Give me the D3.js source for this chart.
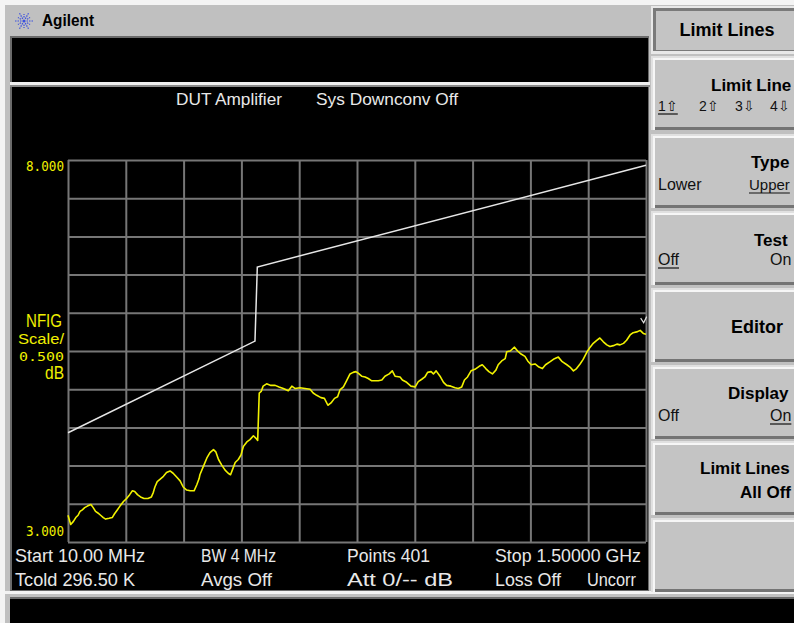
<!DOCTYPE html>
<html><head><meta charset="utf-8">
<script src="https://cdn.jsdelivr.net/npm/d3@7"></script>
<style>html,body{margin:0;padding:0;background:#c0c0c0;overflow:hidden}svg{display:block}</style>
</head><body><svg id="c" width="794" height="623"></svg>
<script>
// ---- data ----
const freqMHz = [
  10,17,24,30,36,41,47,53,60,69,
  75,81,87,94,101,107,116,124,130,137,
  144,153,161,169,176,182,189,197,206,216,
  225,230,234,240,247,256,264,273,281,290,
  299,307,316,325,335,342,348,350,359,368,
  376,385,391,398,406,415,423,429,435,441,
  449,456,462,471,479,488,494,499,503,508,
  513,522,533,544,554,565,578,587,595,608,
  621,634,642,651,662,671,680,688,697,705,
  711,720,728,737,745,752,758,767,776,784,
  793,810,819,827,838,846,853,866,872,883,
  894,905,913,922,930,937,946,952,959,969,
  978,986,997,1008,1016,1025,1032,1040,1049,1059,
  1070,1078,1087,1095,1104,1113,1119,1128,1137,1141,
  1150,1161,1169,1178,1188,1195,1204,1214,1224,1233,
  1241,1253,1264,1274,1284,1296,1304,1313,1321,1330,
  1338,1347,1356,1364,1373,1381,1390,1399,1407,1416,
  1425,1433,1442,1450,1459,1467,1476,1485,1493,1500
];
const nfigDb = [
  3.35,3.23,3.27,3.32,3.35,3.40,3.42,3.45,3.47,3.49,
  3.45,3.40,3.38,3.35,3.32,3.30,3.31,3.32,3.37,3.42,
  3.47,3.53,3.57,3.62,3.67,3.66,3.62,3.59,3.57,3.57,
  3.59,3.65,3.72,3.79,3.82,3.86,3.91,3.93,3.90,3.85,
  3.80,3.72,3.68,3.67,3.67,3.75,3.83,3.88,3.99,4.10,
  4.17,4.21,4.18,4.08,4.01,3.94,3.90,3.88,3.96,4.04,
  4.08,4.14,4.25,4.31,4.34,4.39,4.36,4.33,4.95,4.97,
  5.04,5.07,5.05,5.05,5.03,5.01,4.98,5.04,5.01,5.02,
  5.01,5.00,4.95,4.92,4.89,4.88,4.79,4.82,4.88,4.90,
  4.99,5.03,5.11,5.20,5.22,5.23,5.21,5.17,5.16,5.14,
  5.11,5.11,5.12,5.17,5.20,5.24,5.17,5.16,5.12,5.09,
  5.04,5.03,5.10,5.13,5.16,5.22,5.23,5.20,5.24,5.17,
  5.09,5.05,5.04,5.02,5.01,5.03,5.12,5.16,5.24,5.26,
  5.30,5.32,5.27,5.23,5.20,5.25,5.32,5.37,5.40,5.49,
  5.50,5.55,5.50,5.46,5.43,5.37,5.32,5.33,5.29,5.27,
  5.32,5.36,5.40,5.42,5.36,5.32,5.29,5.24,5.27,5.33,
  5.39,5.48,5.55,5.60,5.64,5.67,5.62,5.58,5.56,5.57,
  5.59,5.58,5.60,5.64,5.71,5.74,5.75,5.77,5.73,5.72
];
const limitFreqMHz = [10, 492, 498, 1500];
const limitDb = [4.43, 5.63, 6.60, 7.93];
const xStartMHz = 10, xStopMHz = 1500;
const yRefBottom = 3.0, yRefTop = 8.0, yPerDiv = 0.5, xDivs = 10;
const yTickLabels = ["8.000", "3.000"];
const titleTexts = ["DUT Amplifier", "Sys Downconv Off"];
const annotRow1 = ["Start 10.00 MHz", "BW 4 MHz", "Points 401", "Stop 1.50000 GHz"];
const annotRow2 = ["Tcold 296.50 K", "Avgs Off", "Att 0/-- dB", "Loss Off", "Uncorr"];
const softkeyLabels = ["Limit Line", "Type", "Test", "Editor", "Display", "Limit Lines"];

// ---- drawing ----
const svg = d3.select("#c");
const W = 794, H = 623;

// frame / bezel
svg.append("rect").attr("x",0).attr("y",0).attr("width",W).attr("height",H).attr("fill","#c0c0c0");
svg.append("rect").attr("x",0).attr("y",0).attr("width",W).attr("height",5).attr("fill","#f4f4f4");
svg.append("rect").attr("x",0).attr("y",0).attr("width",5).attr("height",H).attr("fill","#f4f4f4");
svg.append("rect").attr("x",10).attr("y",36).attr("width",639).attr("height",556).attr("fill","#6a6a6a");
svg.append("rect").attr("x",12).attr("y",38).attr("width",636).attr("height",44).attr("fill","#000");
svg.append("rect").attr("x",10).attr("y",82).attr("width",640).attr("height",3).attr("fill","#f0f0f0");
svg.append("rect").attr("x",10).attr("y",85).attr("width",640).attr("height",2).attr("fill","#8a8a8a");
svg.append("rect").attr("x",12).attr("y",87).attr("width",636).attr("height",503).attr("fill","#000");
svg.append("rect").attr("x",5).attr("y",591).attr("width",W).attr("height",3).attr("fill","#f2f2f2");
svg.append("rect").attr("x",10).attr("y",599).attr("width",W).attr("height",H-599).attr("fill","#000");
svg.append("rect").attr("x",10).attr("y",597).attr("width",W).attr("height",2).attr("fill","#6a6a6a");

// Agilent logo
const logo = svg.append("g").attr("transform","translate(24,21)");
d3.range(12).forEach(i=>{
  const a = i*Math.PI/6;
  const r0 = (i%2===0)?2.5:3.5, r1 = (i%2===0)?9:7;
  logo.append("line").attr("x1",r0*Math.cos(a)).attr("y1",r0*Math.sin(a))
    .attr("x2",r1*Math.cos(a)).attr("y2",r1*Math.sin(a))
    .attr("stroke","#3a4fe0").attr("stroke-width",1.2).attr("stroke-dasharray","1.5,1");
});
logo.append("circle").attr("r",1.6).attr("fill","#3a4fe0");
svg.append("text").attr("x",42).attr("y",26).attr("font-family","Liberation Sans, Arial, sans-serif")
  .attr("font-weight","bold").attr("font-size",17).attr("textLength",52).attr("lengthAdjust","spacingAndGlyphs")
  .attr("fill","#000").text("Agilent");

// scales
const x = d3.scaleLinear().domain([xStartMHz, xStopMHz]).range([68, 646]);
const y = d3.scaleLinear().domain([yRefBottom, yRefTop]).range([542, 160]);

const gridCol = "#767676";
const xGridVals = d3.range(xDivs+1).map(i => xStartMHz + i*(xStopMHz-xStartMHz)/xDivs);
const yGridVals = d3.range(yRefBottom, yRefTop + 1e-9, yPerDiv);

const gx = svg.append("g").attr("transform","translate(0,542)")
  .call(d3.axisBottom(x).tickValues(xGridVals).tickSize(-(542-160)).tickFormat(""));
const gy = svg.append("g").attr("transform","translate(68,0)")
  .call(d3.axisLeft(y).tickValues(yGridVals).tickSize(-(646-68)).tickFormat(""));
[gx, gy].forEach(g => {
  g.select(".domain").remove();
  g.selectAll(".tick line").attr("stroke", gridCol).attr("stroke-width", 2);
});

// limit line
const limitPts = limitFreqMHz.map((f,i)=>[f, limitDb[i]]);
svg.append("path").datum(limitPts)
  .attr("d", d3.line().x(d=>x(d[0])).y(d=>y(d[1])))
  .attr("fill","none").attr("stroke","#e6e6e6").attr("stroke-width",1.5);

// trace
const tracePts = freqMHz.map((f,i)=>[f, nfigDb[i]]);
svg.append("path").datum(tracePts)
  .attr("d", d3.line().x(d=>x(d[0])).y(d=>y(d[1])))
  .attr("fill","none").attr("stroke","#f2f200").attr("stroke-width",1.6).attr("stroke-linejoin","round");

// end marker (small v)
svg.append("path").attr("d", `M${x(1494)-3},${y(5.93)} L${x(1494)},${y(5.87)} L${x(1494)+3},${y(5.95)}`)
  .attr("fill","none").attr("stroke","#e0e0e0").attr("stroke-width",1.2);

// texts on screen
const scrFont = "Liberation Sans, Arial, sans-serif";
function scrText(str, x0, x1, base, size, col){
  svg.append("text").attr("x",x0).attr("y",base).attr("font-family",scrFont)
    .attr("font-size",size).attr("fill",col)
    .attr("textLength",x1-x0).attr("lengthAdjust","spacingAndGlyphs").text(str);
}
scrText(titleTexts[0], 176, 282, 105, 17, "#e8e8e8");
scrText(titleTexts[1], 316, 458, 105, 17, "#e8e8e8");

const yel = "#f0f000";
const digFont = "DejaVu Sans Mono, monospace";
function yText(str, x0, x1, base, size){
  svg.append("text").attr("x",x0).attr("y",base).attr("font-family",digFont)
    .attr("font-size",size).attr("fill",yel)
    .attr("textLength",x1-x0).attr("lengthAdjust","spacingAndGlyphs").text(str);
}
yText(yTickLabels[0], 26, 64, y(yRefTop)+11, 14);
yText(yTickLabels[1], 26, 64, y(yRefBottom)-6, 14);
scrText("NFIG", 26, 62, 327, 19, yel);
scrText("Scale/", 18, 64, 344, 14, yel);
yText("0.500", 19, 64, 361, 13);
scrText("dB", 45, 64, 379, 19, yel);

const r1x = [[15,145],[201,276],[347,430],[495,641]];
annotRow1.forEach((s,i)=>scrText(s, r1x[i][0], r1x[i][1], 562, 18, "#e8e8e8"));
const r2x = [[15,135],[201,272],[347,453],[495,561],[587,636]];
annotRow2.forEach((s,i)=>scrText(s, r2x[i][0], r2x[i][1], 586, 18, "#e8e8e8"));

// softkeys
const keyFont = "Liberation Sans, Arial, sans-serif";
const face = "#c4c4c4";
svg.append("rect").attr("x",651).attr("y",6).attr("width",150).attr("height",48).attr("fill","#e8e8e8");
svg.append("rect").attr("x",653).attr("y",8).attr("width",150).attr("height",43).attr("fill","#7a7a7a");
svg.append("rect").attr("x",656).attr("y",11).attr("width",150).attr("height",39).attr("fill",face);
svg.append("text").attr("x",727).attr("y",36).attr("text-anchor","middle").attr("font-family",keyFont)
  .attr("font-weight","bold").attr("font-size",18).attr("fill","#000").text("Limit Lines");

const keyTops = [58,136,213,290,367,443,520];
const keyH = 72;
keyTops.forEach(t=>{
  svg.append("rect").attr("x",651).attr("y",t-2).attr("width",150).attr("height",keyH+2).attr("fill","#e0e0e0");
  svg.append("rect").attr("x",653).attr("y",t).attr("width",150).attr("height",keyH).attr("fill","#f6f6f6");
  svg.append("rect").attr("x",655).attr("y",t+2).attr("width",150).attr("height",keyH-2).attr("fill","#747474");
  svg.append("rect").attr("x",655).attr("y",t+2).attr("width",150).attr("height",keyH-5).attr("fill",face);
});
function bold(str, x0, base, size){
  svg.append("text").attr("x",x0).attr("y",base).attr("font-family",keyFont)
    .attr("font-weight","bold").attr("font-size",size||18).attr("fill","#000").text(str);
}
function thin(str, x0, base, under, size){
  const t = svg.append("text").attr("x",x0).attr("y",base).attr("font-family",keyFont)
    .attr("font-size",size||16).attr("fill","#111").text(str);
  if(under){
    const w = t.node().getComputedTextLength();
    svg.append("line").attr("x1",x0).attr("x2",x0+w).attr("y1",base+3).attr("y2",base+3)
      .attr("stroke","#111").attr("stroke-width",1.2);
  }
}
bold(softkeyLabels[0], 711, 91, 17);
thin("1\u21E7", 658, 111, true, 14);
thin("2\u21E7", 699, 111, false, 14);
thin("3\u21E9", 735, 111, false, 14);
thin("4\u21E9", 770, 111, false, 14);
bold(softkeyLabels[1], 751, 168, 17);
thin("Lower", 658, 190, false);
thin("Upper", 749, 190, true, 15);
bold(softkeyLabels[2], 754, 246, 17);
thin("Off", 658, 265, true);
thin("On", 770, 265, false);
bold(softkeyLabels[3], 731, 333);
bold(softkeyLabels[4], 728, 399, 17);
thin("Off", 658, 421, false);
thin("On", 770, 421, true);
bold(softkeyLabels[5], 700, 474, 17);
bold("All Off", 740, 498, 17);
</script>
</body></html>
